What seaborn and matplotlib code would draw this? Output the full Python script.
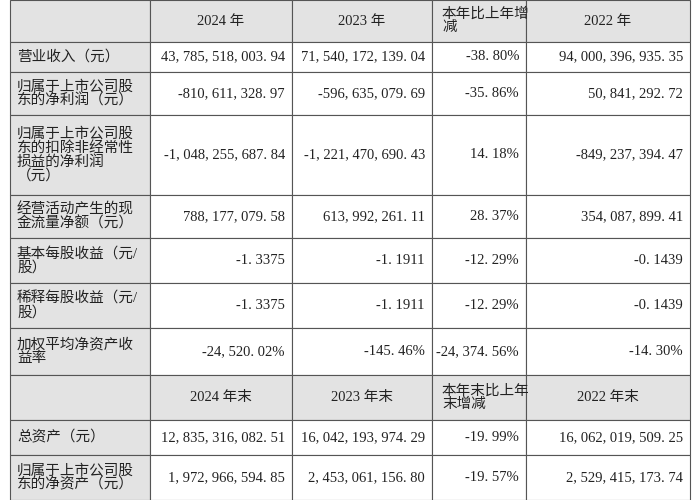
import matplotlib
matplotlib.use("Agg")
import matplotlib.pyplot as plt
import seaborn as sns
from matplotlib.patches import Rectangle

sns.set_theme(style="white")
plt.rcParams['font.family'] = ['Liberation Serif', 'Noto Sans CJK SC', 'DejaVu Sans']

header1 = ["", "2024 年", "2023 年", "本年比上年增\n减", "2022 年"]
header2 = ["", "2024 年末", "2023 年末", "本年末比上年\n末增减", "2022 年末"]
labels1 = ["营业收入（元）", "归属于上市公司股\n东的净利润（元）",
           "归属于上市公司股\n东的扣除非经常性\n损益的净利润\n（元）",
           "经营活动产生的现\n金流量净额（元）", "基本每股收益（元/\n股）",
           "稀释每股收益（元/\n股）", "加权平均净资产收\n益率"]
v2024 = ["43,785,518,003.94", "-810,611,328.97", "-1,048,255,687.84", "788,177,079.58",
         "-1.3375", "-1.3375", "-24,520.02%"]
v2023 = ["71,540,172,139.04", "-596,635,079.69", "-1,221,470,690.43", "613,992,261.11",
         "-1.1911", "-1.1911", "-145.46%"]
vchg = ["-38.80%", "-35.86%", "14.18%", "28.37%", "-12.29%", "-12.29%", "-24,374.56%"]
v2022 = ["94,000,396,935.35", "50,841,292.72", "-849,237,394.47", "354,087,899.41",
         "-0.1439", "-0.1439", "-14.30%"]
labels2 = ["总资产（元）", "归属于上市公司股\n东的净资产（元）"]
e2024 = ["12,835,316,082.51", "1,972,966,594.85"]
e2023 = ["16,042,193,974.29", "2,453,061,156.80"]
echg = ["-19.99%", "-19.57%"]
e2022 = ["16,062,019,509.25", "2,529,415,173.74"]

rows = [("h", header1)]
rows += [("d", [labels1[i], v2024[i], v2023[i], vchg[i], v2022[i]]) for i in range(len(labels1))]
rows += [("h", header2)]
rows += [("d", [labels2[i], e2024[i], e2023[i], echg[i], e2022[i]]) for i in range(len(labels2))]

xb = [10, 150, 292, 432, 526, 690]
yb = [0, 42, 72, 115, 195, 238, 283, 328, 375, 420, 455, 500]

fig = plt.figure(figsize=(6.92, 5.0), dpi=100)
ax = fig.add_axes([0, 0, 1, 1])
ax.set_xlim(0, 692)
ax.set_ylim(500, 0)
ax.axis('off')
gray = "#e3e3e3"
fs = 10.5
for r, (kind, cells) in enumerate(rows):
    y0, y1 = yb[r], yb[r + 1]
    for c, txt in enumerate(cells):
        x0, x1 = xb[c], xb[c + 1]
        fc = gray if (kind == "h" or c == 0) else "white"
        ax.add_patch(Rectangle((x0, y0), x1 - x0, y1 - y0, facecolor=fc,
                               edgecolor="#555555", lw=0.8))
        ym = (y0 + y1) / 2
        if kind == "h":
            if c == 3:
                ax.text(x0 + 10, ym, txt, ha="left", va="center", fontsize=fs, color="#222222", linespacing=1.0)
            else:
                ax.text((x0 + x1) / 2, ym, txt, ha="center", va="center", fontsize=fs, color="#222222")
        elif c == 0:
            ax.text(x0 + 7, ym, txt, ha="left", va="center", fontsize=fs, color="#222222", linespacing=1.0)
        else:
            ax.text(x1 - 7, ym, txt.replace(",", ", ").replace(".", ". "), ha="right", va="center",
                    fontsize=fs, color="#222222")
fig.savefig("out.png", dpi=100)
